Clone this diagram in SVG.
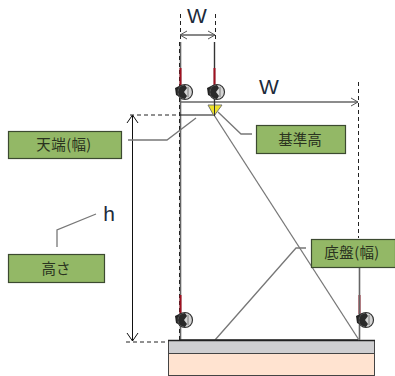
<svg xmlns="http://www.w3.org/2000/svg" width="395" height="376" viewBox="0 0 395 376">
<style>
text{font-family:"Noto Sans CJK JP","Liberation Sans",sans-serif;font-size:14.500px;fill:#2a3320;text-anchor:middle}
.w{font-family:"Liberation Sans",sans-serif;font-size:21px;fill:#1c2a3a}
.box{fill:#93b866;stroke:#3c4a30;stroke-width:1.2}
.dim{fill:none;stroke:#111;stroke-width:1}
.dash{fill:none;stroke:#222;stroke-width:1;stroke-dasharray:4 3}
.lead{fill:none;stroke:#777;stroke-width:1.3}
.pole{fill:none;stroke:#666;stroke-width:1.600}
.red{stroke:#a01020;stroke-width:2}
.head{fill:none;stroke:#555;stroke-width:1}
</style>
<defs>
<g id="lamp">
<path d="M-9 -4L-3 -7L-2 6L-8 3Z" fill="#222"/>
<circle cx="1" cy="0" r="7.500" fill="#d4d4d4" stroke="#333" stroke-width="1.200"/>
<path d="M1 -7A7 7 0 0 0 1 7L3 4L0 0L3 -4Z" fill="#2a2a2a"/>
<path d="M4 -5L4 5" stroke="#666" stroke-width=".8"/>
</g>
</defs>
<g id="ground">
<rect x="168.500" y="340.500" width="206" height="35" fill="#ffe3d0" stroke="#444" stroke-width="1"/>
<rect x="168.500" y="340.500" width="206" height="13" fill="#cfcfd1" stroke="#444" stroke-width="1"/>
<path d="M168 340.500H375" stroke="#222" stroke-width="1.400"/>
</g>
<g id="connectors">
<path class="dash" d="M180.500 14V40M215.500 14V40"/>
<path class="dim" d="M180 35H215" stroke="#555"/>
<path class="head" d="M187 31L180 35L187 39M208 31L215 35L208 39"/>
<path class="pole" d="M180.500 42V340"/>
<path class="dash" d="M179.500 42V340"/>
<path d="M214.500 42V115" fill="none" stroke="#333" stroke-width="1.400"/>
<path class="red" d="M180.500 68V88M214.500 68V88M180.500 295V314M359.500 295V314"/>
<path class="pole" d="M359.500 268V340"/>
<path d="M358.500 82V238" class="dash" stroke="#555"/>
<path class="pole" d="M180 102H358"/>
<path class="head" d="M351 98L358 102L351 106" stroke-width="1.200"/>
<path class="dash" d="M130 115H180"/>
<path class="dim" d="M180 115H214"/>
<path class="dim" d="M132.500 116V341"/>
<path class="dim" d="M127 123L132.500 115L138 123M127 333L132.500 341L138 333"/>
<path class="dash" d="M126 342H168"/>
<path class="lead" d="M214 115L359 340"/>
<path class="lead" d="M215 340L296 248H306"/>
<path class="lead" d="M128 140H167L196 118"/>
<path class="lead" d="M57 247V230L96 214"/>
<path class="lead" d="M218 112L241 134H252"/>
<path d="M180 340H358" stroke="#222" stroke-width="1.400"/>
</g>
<g id="triangle"><path d="M208 105H222L214 116Z" fill="#eee22a" stroke="#777" stroke-width="1"/><path d="M214.500 100V116" stroke="#333"/></g>
<g id="lamps">
<use href="#lamp" x="184" y="92"/>
<use href="#lamp" x="216" y="92"/>
<use href="#lamp" x="184" y="320"/>
<use href="#lamp" x="365" y="320"/>
</g>
<g id="label-w1"><text class="w" x="197" y="23">W</text></g>
<g id="label-w2"><text class="w" x="269" y="94">W</text></g>
<g id="label-h"><text class="w" x="109" y="221">h</text></g>
<g id="node-tenbata"><rect class="box" x="8.500" y="131.500" width="113" height="27"/><text x="64" y="150" style="letter-spacing:.4px">天端(幅)</text></g>
<g id="node-takasa"><rect class="box" x="8.500" y="254.500" width="96" height="28"/><text x="56" y="274">高さ</text></g>
<g id="node-kijun"><rect class="box" x="256.500" y="125.500" width="89" height="28"/><text x="300" y="145">基準高</text></g>
<g id="node-teiban"><rect class="box" x="311.500" y="239.500" width="84" height="28"/><text x="352" y="258" style="letter-spacing:.4px">底盤(幅)</text></g>
</svg>
